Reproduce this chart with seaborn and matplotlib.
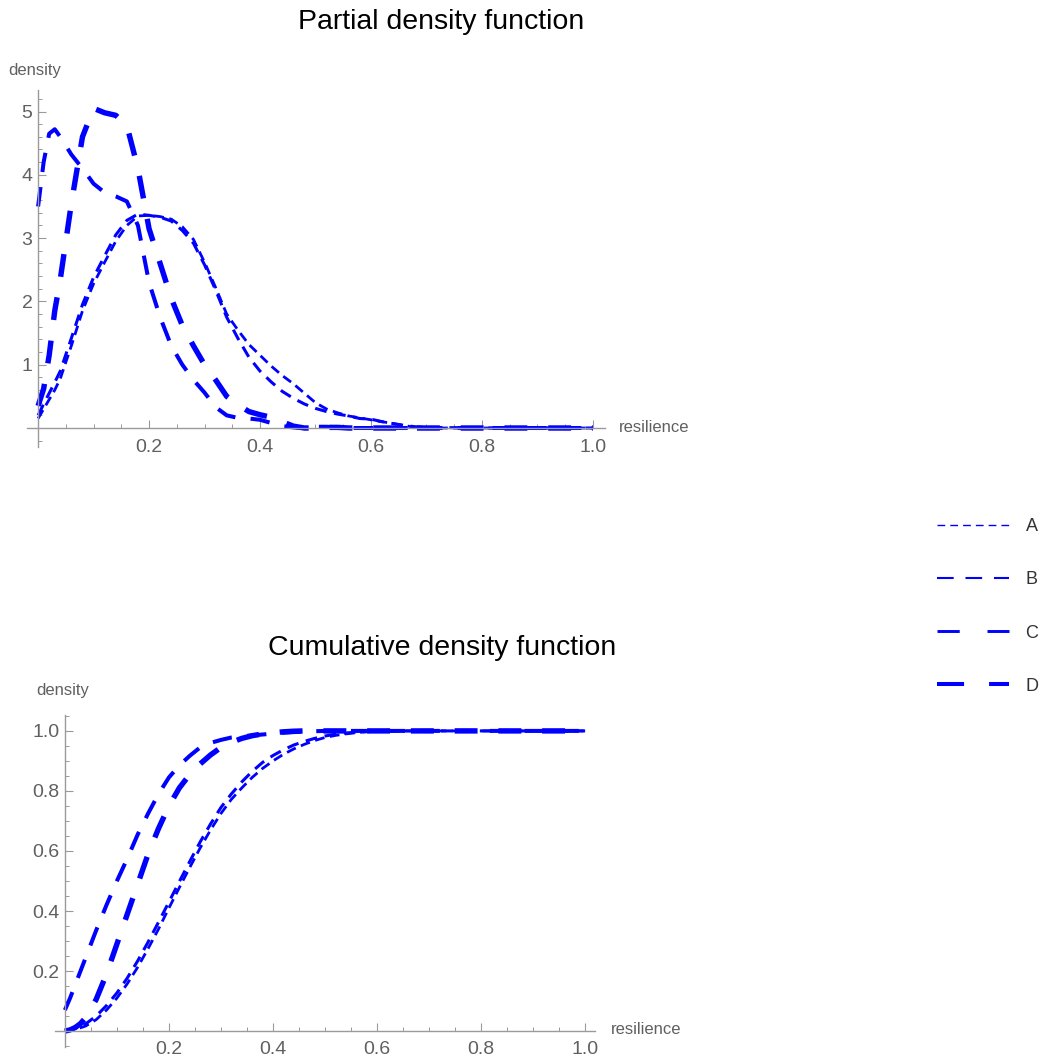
import numpy as np
import pandas as pd
import matplotlib
matplotlib.use("Agg")
import matplotlib.pyplot as plt
from matplotlib.lines import Line2D
from matplotlib.ticker import FixedLocator, MultipleLocator
import seaborn as sns

# ---------------------------------------------------------------- data
curve_names = ["A", "B", "C", "D"]

resilience = [0.00, 0.01, 0.02, 0.03, 0.04, 0.06, 0.08, 0.10, 0.12, 0.14,
              0.16, 0.18, 0.20, 0.22, 0.24, 0.26, 0.28, 0.30, 0.32, 0.34,
              0.36, 0.38, 0.40, 0.42, 0.44, 0.46, 0.48, 0.50, 0.52, 0.54,
              0.56, 0.58, 0.60, 0.62, 0.64, 0.66, 0.68, 0.70, 0.80, 0.90, 1.00]

pdf_A = [0.15, 0.30, 0.45, 0.60, 0.78, 1.30, 1.85, 2.28, 2.62, 2.95,
         3.20, 3.35, 3.36, 3.34, 3.30, 3.18, 2.98, 2.62, 2.22, 1.80,
         1.55, 1.32, 1.15, 0.98, 0.83, 0.70, 0.55, 0.40, 0.30, 0.24,
         0.19, 0.16, 0.13, 0.10, 0.07, 0.04, 0.01, 0.00, 0.00, 0.00, 0.00]
pdf_B = [0.20, 0.38, 0.55, 0.72, 0.90, 1.42, 1.95, 2.38, 2.72, 3.05,
         3.28, 3.38, 3.36, 3.33, 3.27, 3.12, 2.92, 2.58, 2.18, 1.75,
         1.42, 1.12, 0.90, 0.73, 0.58, 0.47, 0.38, 0.31, 0.26, 0.22,
         0.19, 0.15, 0.14, 0.10, 0.07, 0.04, 0.02, 0.01, 0.00, 0.00, 0.00]
pdf_C = [3.50, 4.20, 4.65, 4.72, 4.60, 4.32, 4.10, 3.86, 3.72, 3.66,
         3.58, 3.20, 2.30, 1.75, 1.30, 1.00, 0.76, 0.56, 0.33, 0.20,
         0.16, 0.15, 0.13, 0.08, 0.03, 0.01, 0.00, 0.02, 0.02, 0.01,
         0.00, 0.00, 0.00, 0.00, 0.00, 0.00, 0.00, 0.00, 0.00, 0.00, 0.00]
pdf_D = [0.35, 0.62, 1.15, 1.85, 2.35, 3.55, 4.60, 5.05, 4.98, 4.94,
         4.78, 4.10, 3.15, 2.60, 2.05, 1.62, 1.30, 1.00, 0.76, 0.50,
         0.37, 0.26, 0.21, 0.17, 0.10, 0.03, 0.00, 0.00, 0.01, 0.01,
         0.00, 0.00, 0.00, 0.00, 0.00, 0.00, 0.00, 0.00, 0.00, 0.00, 0.00]

cdf_A = [0.000, 0.003, 0.006, 0.011, 0.017, 0.038, 0.070, 0.110, 0.158, 0.213,
         0.275, 0.340, 0.410, 0.478, 0.545, 0.610, 0.670, 0.725, 0.772, 0.810,
         0.845, 0.875, 0.900, 0.922, 0.940, 0.955, 0.968, 0.978, 0.985, 0.990,
         0.994, 0.997, 0.998, 0.999, 1.000, 1.000, 1.000, 1.000, 1.000, 1.000, 1.000]
cdf_B = [0.002, 0.005, 0.010, 0.016, 0.024, 0.050, 0.085, 0.127, 0.177, 0.234,
         0.297, 0.363, 0.430, 0.498, 0.565, 0.630, 0.690, 0.745, 0.790, 0.830,
         0.865, 0.895, 0.918, 0.937, 0.953, 0.965, 0.975, 0.983, 0.989, 0.993,
         0.996, 0.998, 0.999, 1.000, 1.000, 1.000, 1.000, 1.000, 1.000, 1.000, 1.000]
cdf_C = [0.070, 0.110, 0.155, 0.200, 0.245, 0.335, 0.420, 0.500, 0.575, 0.655,
         0.725, 0.790, 0.845, 0.885, 0.917, 0.945, 0.960, 0.970, 0.978, 0.982,
         0.985, 0.988, 0.991, 0.994, 0.996, 0.998, 0.999, 1.000, 1.000, 1.000,
         1.000, 1.000, 1.000, 1.000, 1.000, 1.000, 1.000, 1.000, 1.000, 1.000, 1.000]
cdf_D = [0.000, 0.004, 0.012, 0.025, 0.045, 0.105, 0.190, 0.290, 0.390, 0.490,
         0.590, 0.675, 0.750, 0.810, 0.855, 0.890, 0.920, 0.945, 0.962, 0.975,
         0.984, 0.990, 0.994, 0.997, 0.999, 1.000, 1.000, 1.000, 1.000, 1.000,
         1.000, 1.000, 1.000, 1.000, 1.000, 1.000, 1.000, 1.000, 1.000, 1.000, 1.000]

pdf_xticks = [0.2, 0.4, 0.6, 0.8, 1.0]
pdf_yticks = [1, 2, 3, 4, 5]
cdf_xticks = [0.2, 0.4, 0.6, 0.8, 1.0]
cdf_yticks = [0.2, 0.4, 0.6, 0.8, 1.0]

# ---------------------------------------------------------------- style
sns.set_style("white")
plt.rcParams["font.family"] = ["Liberation Sans", "DejaVu Sans"]
plt.rcParams["lines.scale_dashes"] = False
plt.rcParams["lines.dash_capstyle"] = "butt"

BLUE = "#0000ff"
AXIS_GRAY = "#9a9a9a"
LABEL_GRAY = "#606060"

# dash patterns (points) and widths for the curves in the panels
plot_dashes = {"A": (7.0, 4.0), "B": (8.5, 5.5), "C": (14.0, 11.0), "D": (16.5, 15.0)}
plot_widths = {"A": 2.0, "B": 2.2, "C": 2.9, "D": 3.9}
# legend swatches are drawn finer
legend_dashes = {"A": (5.6, 3.6), "B": (12.0, 8.5), "C": (16.0, 20.0), "D": (19.5, 18.0)}
legend_widths = {"A": 1.0, "B": 1.5, "C": 2.1, "D": 2.9}

rows = []
for name, p, c in zip(curve_names, [pdf_A, pdf_B, pdf_C, pdf_D], [cdf_A, cdf_B, cdf_C, cdf_D]):
    rows.append(pd.DataFrame({"resilience": resilience, "pdf": p, "cdf": c, "curve": name}))
df = pd.concat(rows, ignore_index=True)

W, H = 1045, 1057
fig = plt.figure(figsize=(W / 100, H / 100), dpi=100)
ax_pdf = fig.add_axes([27 / W, 1 - 447 / H, 578 / W, 357 / H])
ax_cdf = fig.add_axes([55 / W, 1 - 1047 / H, 540 / W, 332 / H])

palette = {n: BLUE for n in curve_names}
for ax, col in ((ax_pdf, "pdf"), (ax_cdf, "cdf")):
    sns.lineplot(data=df, x="resilience", y=col, hue="curve", style="curve",
                 size="curve", palette=palette, dashes=plot_dashes,
                 sizes=plot_widths, estimator=None, sort=False,
                 legend=False, ax=ax)


def axes_through_origin(ax, xlim, ylim, xticks, yticks, xminor, yminor,
                        xfmt, yfmt, xpad, ypad):
    ax.set_xlim(*xlim)
    ax.set_ylim(*ylim)
    ax.set_xlabel("")
    ax.set_ylabel("")
    for side in ("top", "right"):
        ax.spines[side].set_visible(False)
    for side in ("left", "bottom"):
        ax.spines[side].set_position(("data", 0))
        ax.spines[side].set_color(AXIS_GRAY)
        ax.spines[side].set_linewidth(1.0)
    ax.xaxis.set_major_locator(FixedLocator(xticks))
    ax.yaxis.set_major_locator(FixedLocator(yticks))
    ax.xaxis.set_minor_locator(MultipleLocator(xminor))
    ax.yaxis.set_minor_locator(MultipleLocator(yminor))
    ax.set_xticklabels([xfmt.format(t) for t in xticks])
    ax.set_yticklabels([yfmt.format(t) for t in yticks])
    ax.tick_params(which="both", bottom=True, left=True, top=False, right=False)
    ax.tick_params(which="major", direction="in", length=5.5, width=0.8,
                   color=AXIS_GRAY, labelcolor=LABEL_GRAY, labelsize=14)
    ax.tick_params(which="minor", direction="in", length=3.0, width=0.7,
                   color=AXIS_GRAY)
    ax.tick_params(axis="x", which="major", pad=xpad)
    ax.tick_params(axis="y", which="major", pad=ypad)
    ax.patch.set_alpha(0)


axes_through_origin(ax_pdf, (-0.02, 1.022), (-0.30, 5.34), pdf_xticks, pdf_yticks,
                    0.05, 0.2, "{:.1f}", "{:d}", 8, 4)
axes_through_origin(ax_cdf, (-0.019, 1.019), (-0.053, 1.053), cdf_xticks, cdf_yticks,
                    0.05, 0.05, "{:.1f}", "{:.1f}", 7, 4)


def fig_text(x_px, y_px, s, **kw):
    fig.text(x_px / W, 1 - y_px / H, s, **kw)


fig_text(441, 22, "Partial density function", ha="center", va="center",
         fontsize=20.5, color="black")
fig_text(442, 648, "Cumulative density function", ha="center", va="center",
         fontsize=20.5, color="black")
fig_text(8, 70, "density", ha="left", va="center", fontsize=12, color=LABEL_GRAY)
fig_text(36, 690, "density", ha="left", va="center", fontsize=12, color=LABEL_GRAY)
fig_text(619, 428, "resilience", ha="left", va="center", fontsize=12, color=LABEL_GRAY)
fig_text(611, 1030, "resilience", ha="left", va="center", fontsize=12, color=LABEL_GRAY)

handles = [Line2D([], [], color=BLUE, lw=legend_widths[n],
                  dashes=legend_dashes[n]) for n in curve_names]
fig.legend(handles, curve_names, loc="center left",
           bbox_to_anchor=(937 / W, 1 - 606.5 / H), frameon=False,
           fontsize=13, handlelength=4.0, handletextpad=0.9,
           labelspacing=2.0, borderpad=0, borderaxespad=0,
           labelcolor="#333333")

fig.savefig("out.png", dpi=100)
